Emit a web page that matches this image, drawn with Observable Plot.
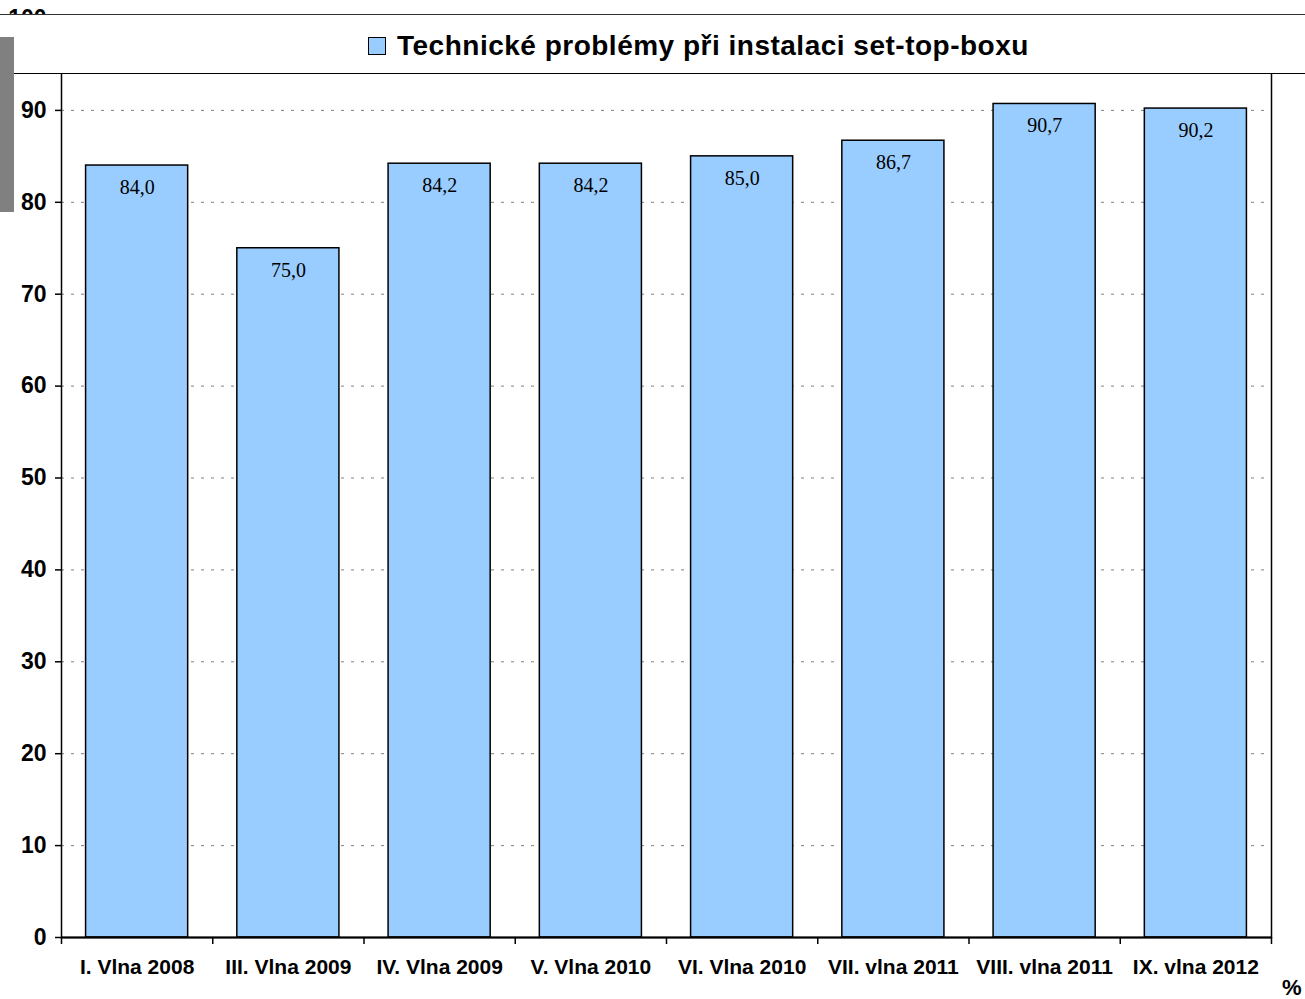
<!DOCTYPE html>
<html><head><meta charset="utf-8">
<script src="https://cdn.jsdelivr.net/npm/d3@7"></script>
<script src="https://cdn.jsdelivr.net/npm/@observablehq/plot@0.6"></script>
<style>
body{margin:0;background:#fff;}
#wrap{position:relative;width:1305px;height:999px;overflow:hidden;background:#fff;}
#legend{position:absolute;left:0;top:14px;width:1305px;height:58px;background:#fff;border-top:1.5px solid #333;border-bottom:1.5px solid #000;box-sizing:content-box;}
#legend .inner{position:absolute;left:368px;top:14px;display:flex;align-items:center;font:bold 28px Arial,"Liberation Sans",sans-serif;letter-spacing:0.5px;color:#000;white-space:nowrap;line-height:34px;}
#legend .sw{width:16px;height:16px;background:#99CCFF;border:1.5px solid #000;margin-right:11px;}
#grey{position:absolute;left:0;top:37px;width:14px;height:175px;background:#808080;}
#pct{position:absolute;left:1282px;top:975px;font:bold 22px Arial,"Liberation Sans",sans-serif;color:#000;}
</style></head>
<body>
<div id="wrap"></div>
<script>
const categories = ["I. Vlna 2008","III. Vlna 2009","IV. Vlna 2009","V. Vlna 2010","VI. Vlna 2010","VII. vlna 2011","VIII. vlna 2011","IX. vlna 2012"];
const values = [84.0,75.0,84.2,84.2,85.0,86.7,90.7,90.2];
const yTicks = [0,10,20,30,40,50,60,70,80,90,100];
const gridTicks = [10,20,30,40,50,60,70,80,90];
const seriesName = "Technické problémy při instalaci set-top-boxu";
const unitLabel = "%";

const data = categories.map((c,i)=>({cat:c, value:values[i], label:values[i].toFixed(1).replace(".", ",")}));
const W = 1305, H = 999, mL = 61, mR = 34, mT = 18, mB = 62;
const step = (W - mL - mR) / categories.length;

const chart = Plot.plot({
  width: W, height: H,
  marginLeft: mL, marginRight: mR, marginTop: mT, marginBottom: mB,
  style: {fontFamily: "Arial, 'Liberation Sans', sans-serif", background: "white", color: "#000"},
  x: {domain: categories, paddingInner: 0.325, paddingOuter: 0.1625, round: false, label: null},
  y: {domain: [0, 100], label: null},
  marks: [
    Plot.gridY(gridTicks, {stroke: "#808080", strokeOpacity: 1, strokeDasharray: "3,7", strokeWidth: 1}),
    Plot.barY(data, {x: "cat", y: "value", fill: "#99CCFF", stroke: "#000", strokeWidth: 1.5}),
    Plot.text(data, {x: "cat", y: "value", text: "label", dy: 22, fontFamily: "'Times New Roman', 'Liberation Serif', serif", fontSize: 20, fill: "#000"}),
    Plot.frame({stroke: "#000", strokeWidth: 1.5}),
    Plot.ruleY([0], {stroke: "#000", strokeWidth: 2}),
    Plot.ruleX(categories, {x: d => d, dx: -step/2, y1: 0, y2: 0, insetBottom: -7, stroke: "#000", strokeWidth: 1.5}),
    Plot.ruleX(categories.slice(-1), {x: d => d, dx: step/2, y1: 0, y2: 0, insetBottom: -7, stroke: "#000", strokeWidth: 1.5}),
    Plot.axisY({ticks: yTicks, tickSize: 6, tickPadding: 9, fontSize: 23, fontWeight: "bold", tickFormat: d => String(d), stroke: "#000", strokeWidth: 1.5}),
    Plot.axisX({tickSize: 0, tickPadding: 22, fontSize: 21, fontWeight: "bold"})
  ]
});

const wrap = document.getElementById("wrap");
chart.style.position = "absolute"; chart.style.left = "0"; chart.style.top = "0";
wrap.appendChild(chart);
const legend = document.createElement("div");
legend.id = "legend";
const inner = document.createElement("div");
inner.className = "inner";
const sw = document.createElement("div"); sw.className = "sw";
const tx = document.createElement("span"); tx.textContent = seriesName;
inner.appendChild(sw); inner.appendChild(tx);
legend.appendChild(inner);
wrap.appendChild(legend);
const grey = document.createElement("div"); grey.id = "grey"; wrap.appendChild(grey);
const pct = document.createElement("div"); pct.id = "pct"; pct.textContent = unitLabel; wrap.appendChild(pct);
</script>
</body></html>
